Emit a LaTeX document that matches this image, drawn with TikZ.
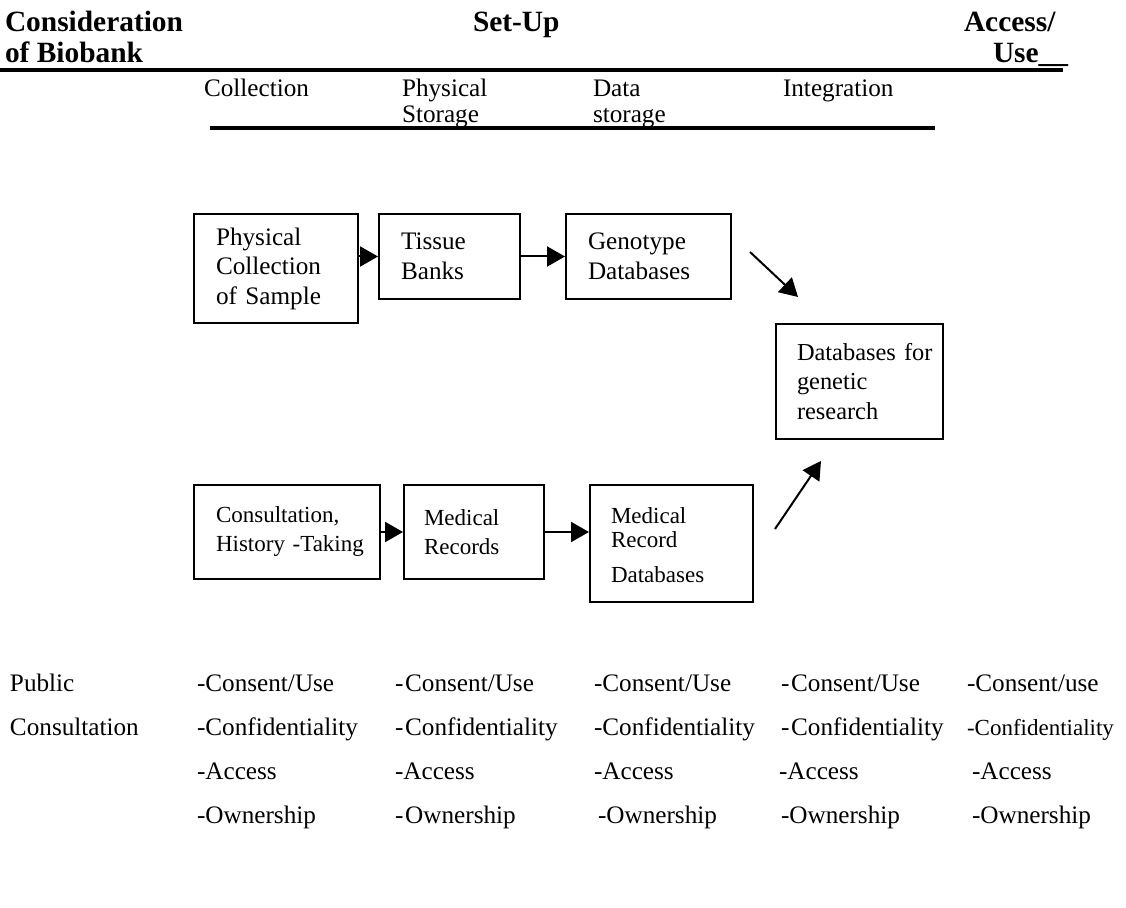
\documentclass[tikz,border=0pt]{standalone}
\usepackage{fontspec}
\setmainfont{Liberation Serif}
\usetikzlibrary{arrows.meta, positioning}
\newcommand\bodyfont{\fontsize{12.6}{14.75}\selectfont}
\newcommand\smallbody{\fontsize{11.5}{14.5}\selectfont}
\newcommand\headfont{\bfseries\fontsize{14.7}{16}\selectfont}
\newcommand\dgap{\kern0.9pt}
\tikzset{
  % one px of the page is half a point, y runs downwards
  every picture/.append style = {line width=1pt},
  flow/.style   = {-{Triangle[length=9pt, width=10pt]}, line width=1pt},
  hrule/.style  = {line width=1.6pt},
  box/.style    = {draw, line width=1pt, align=left, anchor=north west,
                   inner xsep=11pt, inner ysep=0pt, font=\bodyfont},
  txt/.style    = {anchor=base west, inner sep=0pt, font=\bodyfont},
  head/.style   = {anchor=base west, inner sep=0pt, font=\headfont},
}

\begin{document}
\begin{tikzpicture}[x=0.5pt, y=-0.5pt]
  \useasboundingbox (0,0) rectangle (1126,908);
  % --- headings -----------------------------------------------------------
  \node[head] (hdcons)  at (4,32)   {Consideration};
  \node[head] (hdbio)   at (4,63)   {of Biobank};
  \node[head] (hdsetup) at (472,32) {Set-Up};
  \node[head] (hdacc)   at (963,32) {Access/};
  \node[head] (hduse)   at (992,63) {Use\_\_};
  \draw[hrule] (0,70) -- (1063,70);
  \node[txt] (stcoll)  at (203,97) {Collection};
  \node[txt] (stphys)  at (401,97) {Physical};
  \node[txt] (stphys2) at (401,123) {Storage};
  \node[txt] (stdata)  at (592,97) {Data};
  \node[txt] (stdata2) at (592,123) {storage};
  \node[txt] (stint)   at (782,97) {Integration};
  \draw[hrule] (210,128) -- (935,128);
  % --- genetic chain --------------------------------------------------------
  \node[box, minimum width=82pt, minimum height=54.5pt, text width=60pt]
    (coll) at (193,213) {Physical\\Collection\\of Sample};
  \node[box, minimum width=70.5pt, minimum height=42.5pt, text width=48.5pt]
    (tissue) at (378,213) {Tissue\\Banks};
  \node[box, minimum width=82.5pt, minimum height=42.5pt, text width=60.5pt]
    (geno) at (565,213) {Genotype\\Databases};
  \draw[flow] (coll.east |- tissue.west) -- (tissue.west);
  \draw[flow] (tissue.east) -- (geno.west);
  % --- research database ----------------------------------------------------
  \node[box, font=\fontsize{12.2}{14.75}\selectfont, minimum width=83.5pt,
        minimum height=57.5pt, text width=62.5pt, inner xsep=10.5pt]
    (dbgen) at (775,323) {\mbox{Databases for}\\genetic\\research};
  \coordinate (topfrom) at (750,252);
  \coordinate (topto)   at (798,297);
  \coordinate (lowfrom) at (775,529);
  \coordinate (lowto)   at (821,461);
  \draw[flow] (topfrom) -- (topto);
  \draw[flow] (lowfrom) -- (lowto);
  % --- medical chain --------------------------------------------------------
  \node[box, font=\smallbody, minimum width=93pt, minimum height=47pt, text width=71pt]
    (consult) at (193,484) {Consultation,\\\mbox{History -Taking}};
  \node[box, font=\smallbody, minimum width=70pt, minimum height=47pt, text width=50pt,
        inner xsep=10pt]
    (medrec) at (403,484) {Medical\\Records};
  \node[box, font=\fontsize{11.5}{12}\selectfont, minimum width=81.5pt,
        minimum height=58.5pt, text width=60.5pt, inner xsep=10.5pt]
    (mrdb) at (589,484) {\rule{0pt}{10pt}Medical\\Record\\[5.5pt]Databases};
  \draw[flow] (consult.east) -- (medrec.west);
  \draw[flow] (medrec.east) -- (medrec.east -| mrdb.west);
  % --- issues per stage -----------------------------------------------------
  \node[txt] (pub)  at (9,692) {Public};
  \node[txt] (pub2) at (9,736) {Consultation};
  \foreach \x/\t [count=\i] in {196/{-Consent/Use}, 394/{-\dgap Consent/Use},
      593/{-Consent/Use}, 780/{-\dgap Consent/Use}, 966/{-Consent/use}}
    \node[txt] (use\i) at (\x,692) {\t};
  \foreach \x/\t [count=\i] in {196/{-Confidentiality}, 394/{-\dgap Confidentiality},
      593/{-Confidentiality}, 780/{-\dgap Confidentiality},
      966/{\smallbody -Confidentiality}}
    \node[txt] (conf\i) at (\x,736) {\t};
  \foreach \x/\t [count=\i] in {196/{-Access}, 394/{-Access}, 593/{-Access},
      778/{-Access}, 971/{-Access}}
    \node[txt] (acc\i) at (\x,780) {\t};
  \foreach \x/\t [count=\i] in {196/{-Ownership}, 394/{-\dgap Ownership},
      597/{-Ownership}, 780/{-Ownership}, 971/{-Ownership}}
    \node[txt] (own\i) at (\x,824) {\t};
\end{tikzpicture}
\end{document}
